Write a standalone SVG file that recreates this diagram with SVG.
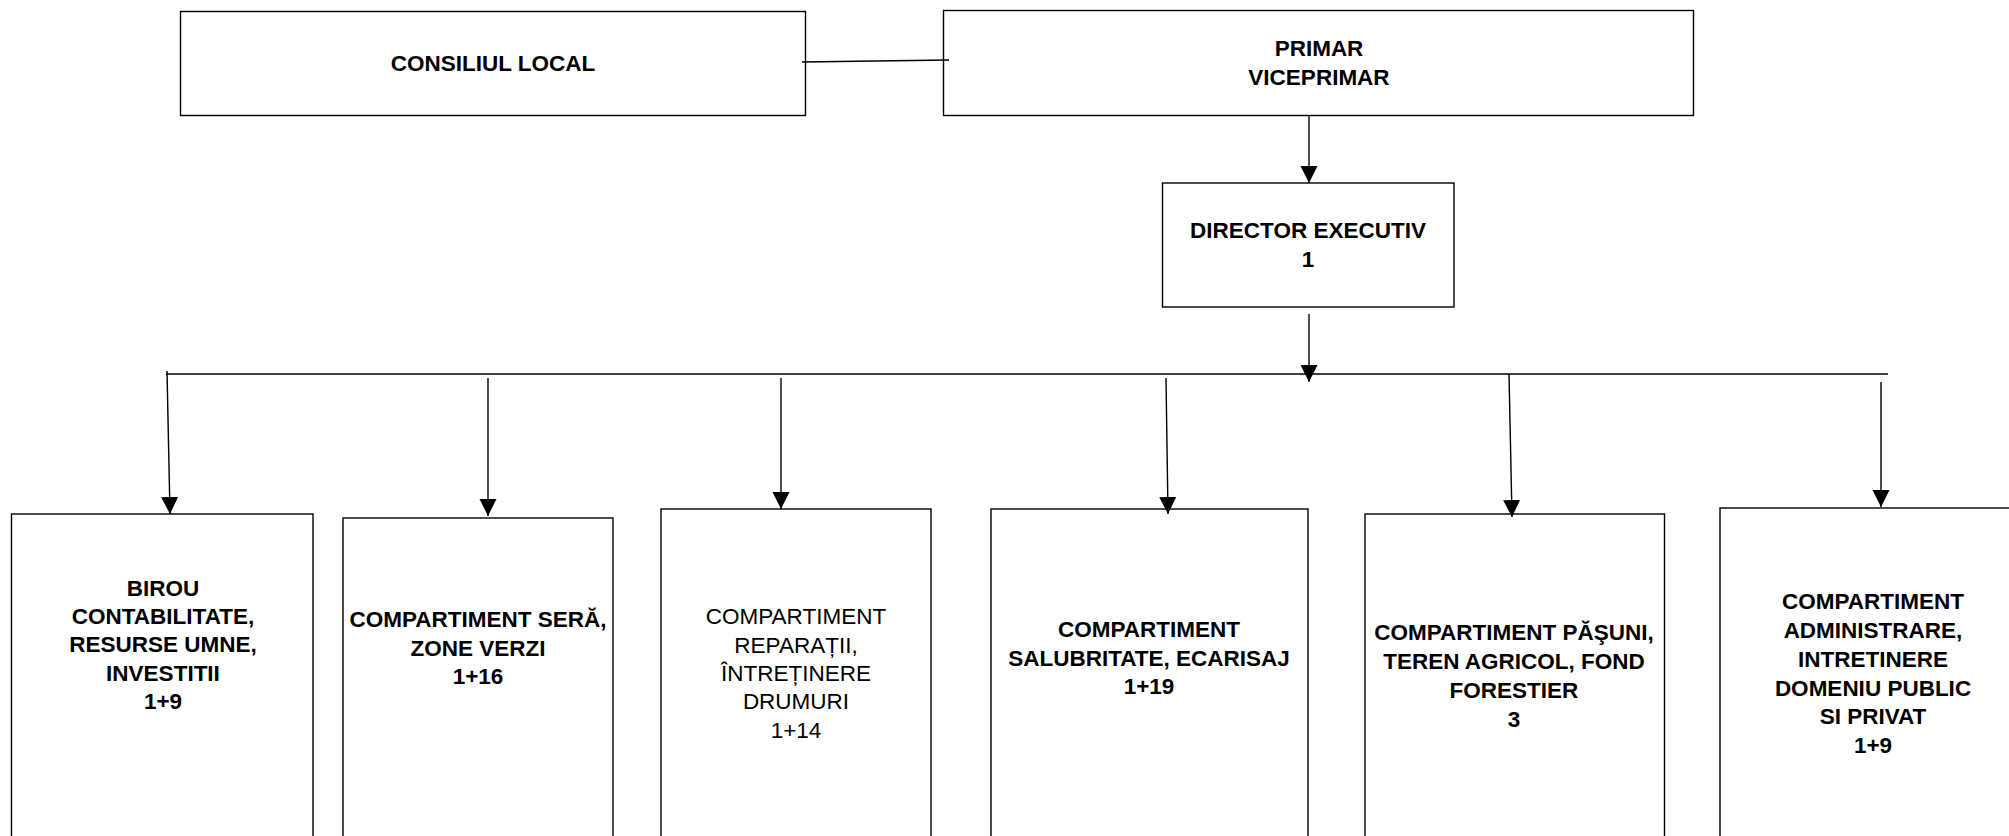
<svg xmlns="http://www.w3.org/2000/svg" width="2009" height="836" viewBox="0 0 2009 836">
<defs>
<style>
.box{fill:#fff;stroke:#000;stroke-width:1.4}
.t{font-family:"Liberation Sans",Arial,sans-serif;font-size:22.5px;font-weight:bold;fill:#000;text-anchor:middle}
.r{font-weight:normal}
.c{stroke:#000;stroke-width:1.4;fill:none}
</style>
<marker id="ah" markerUnits="userSpaceOnUse" markerWidth="18" markerHeight="18" viewBox="0 0 18 18" refX="17" refY="9" orient="auto">
<path d="M0,0.5 L17,9 L0,17.5 Z" fill="#000"/>
</marker>
</defs>
<rect width="2009" height="836" fill="#fff"/>
<g id="consiliul-local">
<rect class="box" x="180.5" y="11.5" width="625" height="104"/>
<text class="t" x="493" y="71">CONSILIUL LOCAL</text>
</g>
<g id="primar">
<rect class="box" x="943.5" y="10.5" width="750" height="105"/>
<text class="t" x="1319" y="56">PRIMAR</text>
<text class="t" x="1319" y="85">VICEPRIMAR</text>
</g>
<g id="director">
<rect class="box" x="1162.5" y="183" width="291.5" height="124"/>
<text class="t" x="1308" y="238">DIRECTOR EXECUTIV</text>
<text class="t" x="1308" y="267">1</text>
</g>
<g id="birou-contabilitate">
<rect class="box" x="11.5" y="514" width="301.5" height="340"/>
<text class="t" x="163" y="596">BIROU</text>
<text class="t" x="163" y="624">CONTABILITATE,</text>
<text class="t" x="163" y="652">RESURSE UMNE,</text>
<text class="t" x="163" y="681">INVESTITII</text>
<text class="t" x="163" y="709">1+9</text>
</g>
<g id="compartiment-sera">
<rect class="box" x="343" y="518" width="270" height="340"/>
<text class="t" x="478" y="627">COMPARTIMENT SERĂ,</text>
<text class="t" x="478" y="656">ZONE VERZI</text>
<text class="t" x="478" y="684">1+16</text>
</g>
<g id="compartiment-reparatii">
<rect class="box" x="661" y="509" width="270" height="340"/>
<text class="t r" x="796" y="624">COMPARTIMENT</text>
<text class="t r" x="796" y="653">REPARAȚII,</text>
<text class="t r" x="796" y="681">ÎNTREȚINERE</text>
<text class="t r" x="796" y="709">DRUMURI</text>
<text class="t r" x="796" y="738">1+14</text>
</g>
<g id="compartiment-salubritate">
<rect class="box" x="991" y="509" width="317" height="340"/>
<text class="t" x="1149" y="637">COMPARTIMENT</text>
<text class="t" x="1149" y="666">SALUBRITATE, ECARISAJ</text>
<text class="t" x="1149" y="694">1+19</text>
</g>
<g id="compartiment-pasuni">
<rect class="box" x="1365" y="514" width="299.5" height="340"/>
<text class="t" x="1514" y="640">COMPARTIMENT PĂŞUNI,</text>
<text class="t" x="1514" y="669">TEREN AGRICOL, FOND</text>
<text class="t" x="1514" y="698">FORESTIER</text>
<text class="t" x="1514" y="727">3</text>
</g>
<g id="compartiment-administrare">
<rect class="box" x="1720" y="508" width="310" height="340"/>
<text class="t" x="1873" y="609">COMPARTIMENT</text>
<text class="t" x="1873" y="638">ADMINISTRARE,</text>
<text class="t" x="1873" y="667">INTRETINERE</text>
<text class="t" x="1873" y="696">DOMENIU PUBLIC</text>
<text class="t" x="1873" y="724">SI PRIVAT</text>
<text class="t" x="1873" y="753">1+9</text>
</g>
<g id="connectors">
<line class="c" x1="802" y1="62" x2="949" y2="60"/>
<line class="c" x1="1309" y1="116" x2="1309" y2="183" marker-end="url(#ah)"/>
<line class="c" x1="1309" y1="314" x2="1309" y2="382" marker-end="url(#ah)"/>
<line class="c" x1="166" y1="374" x2="1888" y2="374"/>
<line class="c" x1="167" y1="371" x2="170" y2="514" marker-end="url(#ah)"/>
<line class="c" x1="488" y1="378" x2="488" y2="516" marker-end="url(#ah)"/>
<line class="c" x1="781" y1="378" x2="781" y2="509" marker-end="url(#ah)"/>
<line class="c" x1="1166" y1="378" x2="1168" y2="514" marker-end="url(#ah)"/>
<line class="c" x1="1509" y1="374" x2="1512" y2="517" marker-end="url(#ah)"/>
<line class="c" x1="1881" y1="382" x2="1881" y2="507" marker-end="url(#ah)"/>
</g>
</svg>
